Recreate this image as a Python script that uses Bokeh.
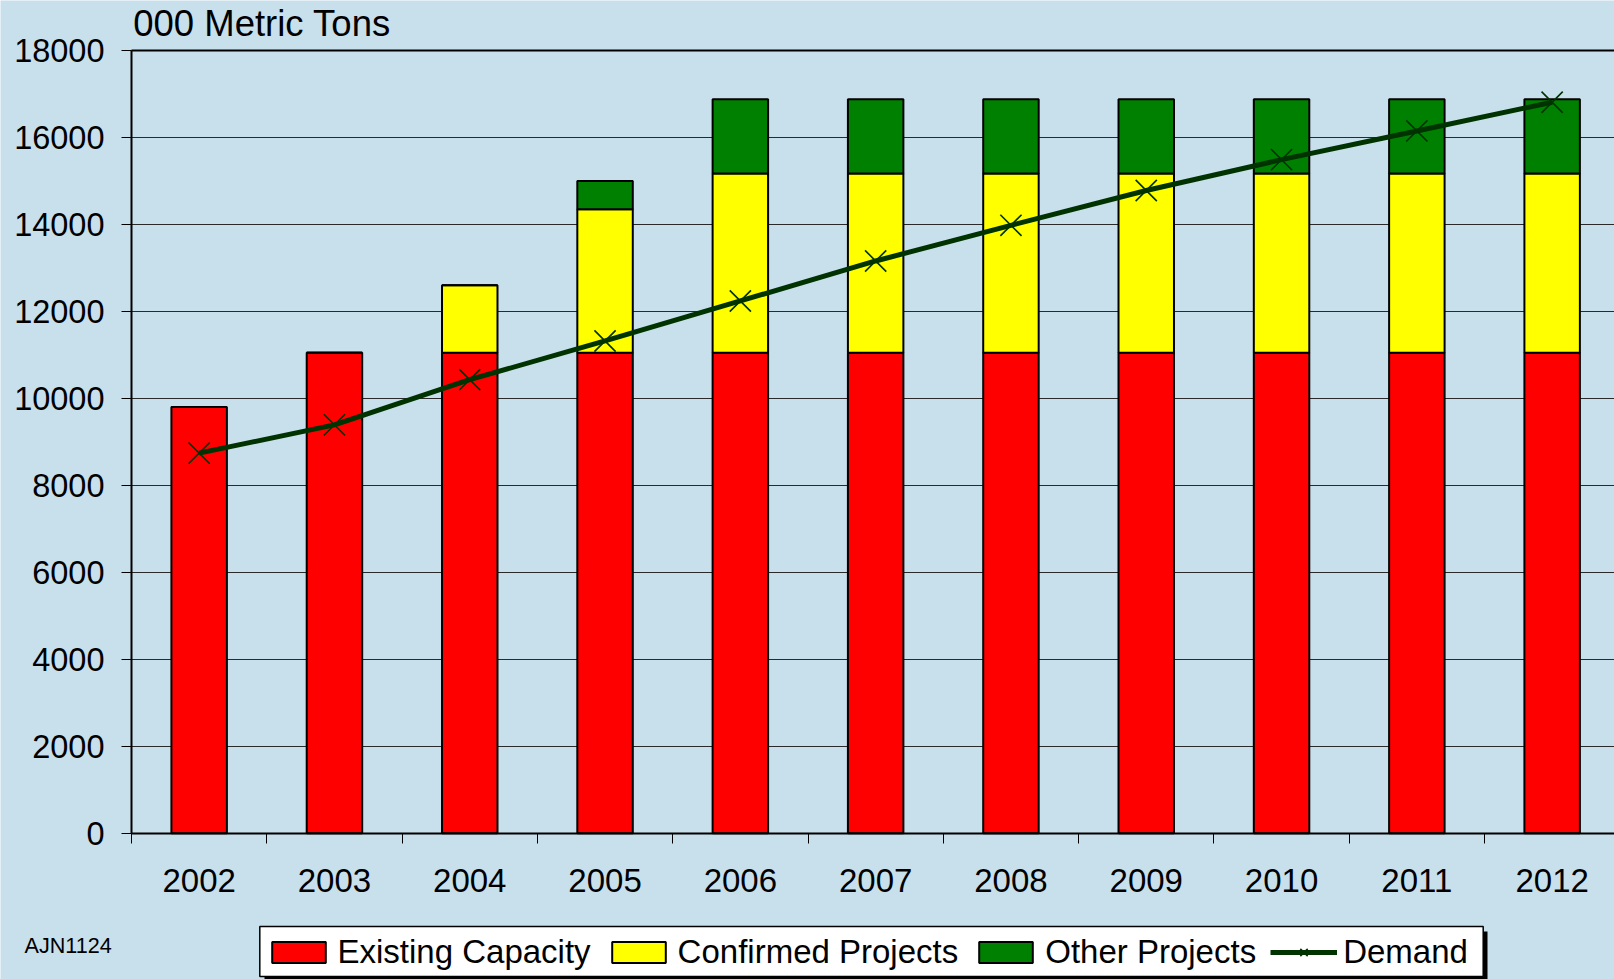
from bokeh.plotting import figure
from bokeh.models import (Range1d, FixedTicker, Legend, LegendItem, Label, Grid,
                          ColumnDataSource, BoxAnnotation)
from bokeh.embed import file_html
from bokeh.resources import INLINE

# ---- data ----
years = ["2002", "2003", "2004", "2005", "2006", "2007", "2008", "2009", "2010", "2011", "2012"]
existing = [9800, 11050, 11050, 11050, 11050, 11050, 11050, 11050, 11050, 11050, 11050]
confirmed = [0, 0, 1550, 3300, 4120, 4120, 4120, 4120, 4120, 4120, 4120]
other = [0, 0, 0, 650, 1710, 1710, 1710, 1710, 1710, 1710, 1710]
demand = [8740, 9390, 10430, 11320, 12240, 13160, 13980, 14780, 15490, 16150, 16810]
y_ticks = [0, 2000, 4000, 6000, 8000, 10000, 12000, 14000, 16000, 18000]
series_names = ["Existing Capacity", "Confirmed Projects", "Other Projects", "Demand"]
unit_label = "000 Metric Tons"
footnote = "AJN1124"

# ---- layout constants (pixels) ----
W, H = 1614, 979
AX_X = 131.0          # page x of the value axis
AX_Y = 832.7          # page y of the category axis (value 0)
PX_PER_CAT = 135.3
PX_PER_UNIT = 782.7 / 18000.0

BG = "#C8DFEC"
FONT = "Liberation Sans"
LINE_COL = "#003300"

n = len(years)
centers = [i + 0.5 for i in range(n)]
bounds = list(range(n + 1))

x_start = -AX_X / PX_PER_CAT
x_end = (W - AX_X) / PX_PER_CAT
y_start = -(H - AX_Y) / PX_PER_UNIT
y_end = AX_Y / PX_PER_UNIT
y_top = y_ticks[-1]

p = figure(width=W, height=H, output_backend="svg", toolbar_location=None,
           x_range=Range1d(x_start, x_end), y_range=Range1d(y_start, y_end),
           min_border=0)
p.background_fill_color = BG
p.border_fill_color = BG
p.outline_line_color = None

src = ColumnDataSource(dict(x=centers, existing=existing, confirmed=confirmed,
                            other=other, demand=demand))

# grid (only inside the plot area)
p.xgrid.grid_line_color = None
p.ygrid.grid_line_color = "#2a2a2a"
p.ygrid.grid_line_width = 1
p.ygrid.ticker = FixedTicker(ticks=y_ticks)
p.ygrid.bounds = (0, y_top)
p.ygrid.cross_bounds = (0, x_end)
# top border of the plot area
p.add_layout(Grid(dimension=1, ticker=FixedTicker(ticks=[y_top]), cross_bounds=(0, x_end),
                  grid_line_color="black", grid_line_width=2))

bars = p.vbar_stack(["existing", "confirmed", "other"], x="x", width=0.41, source=src,
                    color=["#FF0000", "#FFFF00", "#008000"],
                    line_color="black", line_width=2)

ln = p.line("x", "demand", source=src, line_color=LINE_COL, line_width=5)
mk = p.scatter("x", "demand", source=src, marker="x", size=30,
               line_color=LINE_COL, line_width=1.6)

# y axis
ya = p.yaxis[0]
ya.fixed_location = 0
ya.bounds = (0, y_top)
ya.ticker = FixedTicker(ticks=y_ticks)
ya.axis_line_color = "black"
ya.axis_line_width = 2
ya.major_tick_out = 10
ya.major_tick_in = 0
ya.major_tick_line_color = "black"
ya.minor_tick_line_color = None
ya.major_label_text_font = FONT
ya.major_label_text_font_size = "32.5px"
ya.major_label_text_color = "black"
ya.major_label_standoff = 17

# x axis: labels at category centres, ticks at category boundaries
xa = p.xaxis[0]
xa.fixed_location = 0
xa.bounds = (0, x_end)
xa.ticker = FixedTicker(ticks=centers, minor_ticks=bounds)
xa.major_label_overrides = {c: y for c, y in zip(centers, years)}
xa.major_tick_line_color = None
xa.minor_tick_line_color = "black"
xa.minor_tick_out = 10
xa.minor_tick_in = 0
xa.axis_line_color = "black"
xa.axis_line_width = 2
xa.major_label_text_font = FONT
xa.major_label_text_font_size = "33px"
xa.major_label_text_color = "black"
xa.major_label_standoff = 26

# unit label and footnote
p.add_layout(Label(x=132.7, y=H - 23, x_units="screen", y_units="screen", text=unit_label,
                   text_font=FONT, text_font_size="36.5px", text_color="black",
                   text_baseline="alphabetic"))
p.add_layout(Label(x=24, y=H - 945, x_units="screen", y_units="screen", text=footnote,
                   text_font=FONT, text_font_size="21.6px", text_color="black",
                   text_baseline="alphabetic"))

# legend frame with shadow
p.add_layout(BoxAnnotation(left=264, right=1487, bottom=0, top=H - 931,
                           left_units="screen", right_units="screen",
                           bottom_units="screen", top_units="screen",
                           fill_color="black", fill_alpha=1, line_color=None,
                           level="overlay"))
p.add_layout(BoxAnnotation(left=259.3, right=1482.7, bottom=H - 976, top=H - 926,
                           left_units="screen", right_units="screen",
                           bottom_units="screen", top_units="screen",
                           fill_color="white", fill_alpha=1, line_color="black",
                           line_width=1.5, line_alpha=1, level="overlay"))

legend = Legend(items=[
    LegendItem(label=series_names[0], renderers=[bars[0]]),
    LegendItem(label=series_names[1], renderers=[bars[1]]),
    LegendItem(label=series_names[2], renderers=[bars[2]]),
    LegendItem(label=series_names[3], renderers=[ln, mk]),
], orientation="horizontal", location=(264.5, 8))
legend.label_text_font = FONT
legend.label_text_font_size = "33px"
legend.label_text_color = "black"
legend.glyph_width = 67
legend.glyph_height = 26
legend.label_standoff = 6
legend.spacing = 14
legend.padding = 0
legend.margin = 0
legend.background_fill_alpha = 0
legend.border_line_color = None
legend.level = "overlay"
p.add_layout(legend)

open("out.html", "w").write(file_html(p, INLINE))
